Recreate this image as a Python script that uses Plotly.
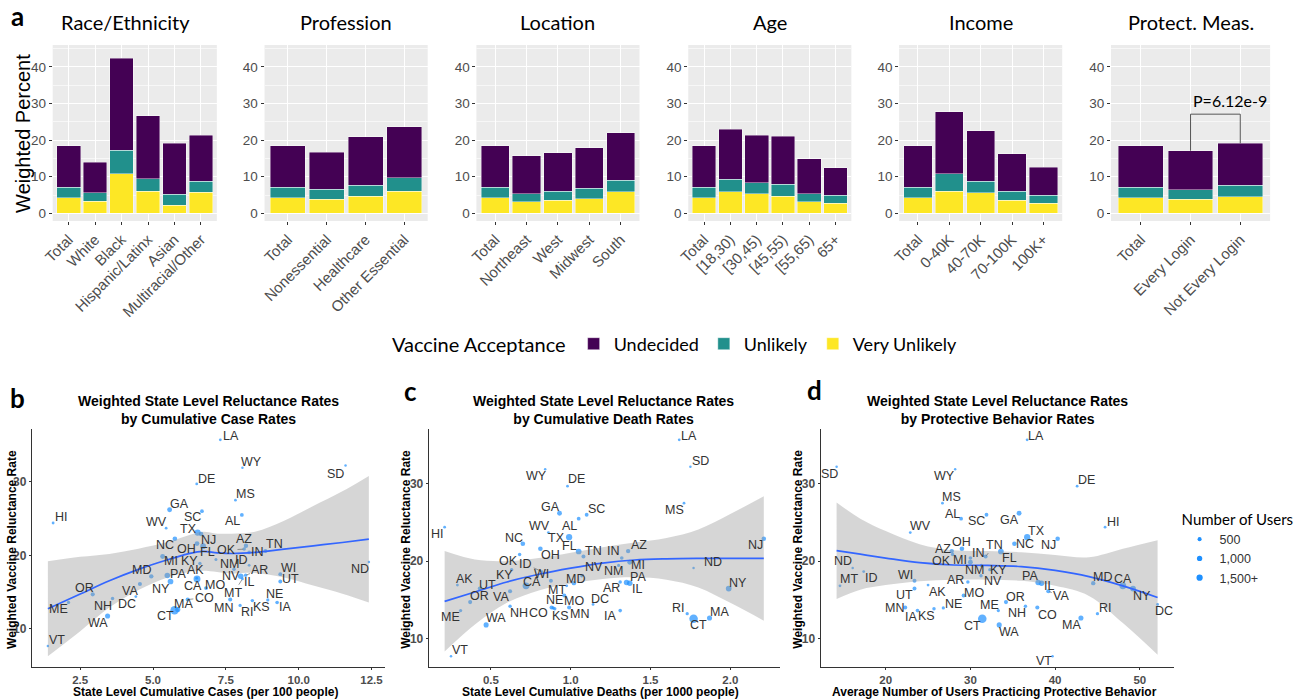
import plotly.graph_objects as go

# ---------------- Panel a: weighted percent by group, stacked by acceptance ----------------
race_cats = ["Total", "White", "Black", "Hispanic/Latinx", "Asian", "Multiracial/Other"]
race_very_unlikely = [4.3, 3.3, 10.75, 6.1, 2.2, 5.7]
race_unlikely = [2.8, 2.3, 6.55, 3.3, 3.0, 3.0]
race_undecided = [11.3, 8.3, 25.1, 17.3, 13.9, 12.6]

prof_cats = ["Total", "Nonessential", "Healthcare", "Other Essential"]
prof_very_unlikely = [4.3, 3.8, 4.6, 6.1]
prof_unlikely = [2.8, 2.8, 3.1, 3.6]
prof_undecided = [11.3, 10.1, 13.2, 14.0]

loc_cats = ["Total", "Northeast", "West", "Midwest", "South"]
loc_very_unlikely = [4.3, 3.1, 3.6, 4.0, 5.9]
loc_unlikely = [2.8, 2.3, 2.5, 2.9, 3.2]
loc_undecided = [11.3, 10.3, 10.5, 11.0, 12.9]

age_cats = ["Total", "[18,30)", "[30,45)", "[45,55)", "[55,65)", "65+"]
age_very_unlikely = [4.3, 5.9, 5.3, 4.7, 3.1, 2.7]
age_unlikely = [2.8, 3.4, 3.1, 3.2, 2.2, 2.2]
age_undecided = [11.3, 13.7, 13.0, 13.2, 9.6, 7.6]

inc_cats = ["Total", "0-40K", "40-70K", "70-100K", "100K+"]
inc_very_unlikely = [4.3, 6.0, 5.6, 3.6, 2.7]
inc_unlikely = [2.8, 4.75, 3.2, 2.5, 2.2]
inc_undecided = [11.3, 17.05, 13.7, 10.2, 7.7]

prot_cats = ["Total", "Every Login", "Not Every Login"]
prot_very_unlikely = [4.3, 3.9, 4.5]
prot_unlikely = [2.8, 2.5, 3.15]
prot_undecided = [11.3, 10.7, 11.45]
prot_pvalue = "P=6.12e-9"

# ---------------- Panels b-d: state level data ----------------
states = ["AL", "AK", "AZ", "AR", "CA", "CO", "CT", "DE", "DC", "FL", "GA", "HI", "ID",
          "IL", "IN", "IA", "KS", "KY", "LA", "ME", "MD", "MA", "MI", "MN", "MS", "MO",
          "MT", "NE", "NV", "NH", "NJ", "NM", "NY", "NC", "ND", "OH", "OK", "OR", "PA",
          "RI", "SC", "SD", "TN", "TX", "UT", "VT", "VA", "WA", "WV", "WI", "WY"]
reluctance = [25.5, 16.9, 21.3, 17.3, 16.8, 14.0, 12.55, 29.7, 14.4, 21.25, 26.2, 24.4, 18.65,
              17.15, 20.4, 13.6, 13.85, 18.9, 35.7, 13.6, 17.15, 12.65, 19.85, 14.0, 27.5, 15.55,
              16.8, 13.95, 18.1, 14.15, 22.9, 19.45, 16.45, 22.25, 19.1, 21.6, 20.85, 14.7, 17.25,
              13.2, 26.0, 32.2, 20.6, 23.1, 16.45, 7.7, 16.1, 11.75, 23.7, 17.45, 31.9]
cases_per_100 = [8.05, 6.5, 8.19, 8.18, 6.51, 6.19, 5.74, 6.5, 4.41, 6.72, 5.57, 1.57, 8.3,
                 8.01, 8.3, 9.26, 8.41, 6.61, 7.31, 2.1, 4.94, 5.85, 5.33, 7.65, 7.83, 6.82,
                 8.07, 8.94, 7.78, 3.61, 6.65, 7.16, 5.6, 5.75, 12.41, 6.51, 8.13, 2.93, 5.49,
                 7.99, 6.68, 11.61, 8.86, 6.53, 9.37, 1.39, 4.55, 3.44, 5.45, 9.37, 8.07]
deaths_per_1000 = [1.05, 0.29, 1.36, 1.31, 0.72, 0.88, 1.77, 0.98, 1.14, 1.05, 0.93, 0.21, 0.82,
                   1.37, 1.32, 1.31, 0.90, 0.63, 1.68, 0.31, 1.02, 1.87, 1.37, 0.99, 1.71, 0.96,
                   0.975, 0.89, 1.07, 0.62, 2.21, 1.30, 1.99, 0.70, 1.77, 0.81, 0.68, 0.37, 1.35,
                   1.73, 1.10, 1.75, 1.08, 0.99, 0.43, 0.25, 0.62, 0.47, 0.86, 0.876, 0.84]
protective_users = [28.9, 25.0, 27.8, 29.7, 48.0, 37.9, 31.4, 42.6, 52.1, 33.6, 35.75, 45.9, 17.4,
                    38.4, 30.0, 23.75, 25.7, 32.3, 36.7, 33.3, 44.5, 43.05, 30.0, 22.3, 26.7, 29.2,
                    14.6, 26.8, 31.25, 36.5, 40.3, 31.3, 49.2, 35.2, 16.1, 29.0, 27.9, 34.2, 38.0,
                    45.0, 31.9, 14.2, 31.8, 36.7, 23.4, 39.7, 39.2, 33.4, 22.9, 23.4, 28.2]
n_users = [400, 150, 600, 300, 1900, 500, 3200, 150, 150, 1200, 800, 150, 150,
           1100, 350, 350, 300, 300, 150, 250, 600, 900, 800, 500, 150, 450,
           150, 250, 300, 300, 650, 200, 1200, 700, 100, 700, 300, 500, 1100,
           250, 400, 100, 450, 1500, 450, 100, 500, 900, 150, 450, 100]
size_legend_values = [500, 1000, 1500]
size_legend_labels = ["500", "1,000", "1,500+"]

# Smoothed trend (fit with confidence band) for each scatter panel
cases_smooth_x = [1.39, 2.5, 3.5, 4.5, 5.5, 6.2, 6.7, 7.2, 7.7, 8.5, 9.5, 10.5, 11.5, 12.41]
cases_smooth_fit = [12.75, 14.75, 16.55, 18.1, 19.4, 20.2, 20.55, 20.35, 20.25, 20.4, 20.85, 21.3, 21.75, 22.2]
cases_smooth_lo = [6.3, 9.7, 12.9, 15.3, 17.0, 17.7, 17.9, 17.75, 17.55, 17.6, 17.0, 15.9, 14.8, 13.6]
cases_smooth_hi = [19.2, 19.8, 20.2, 20.9, 21.8, 22.7, 23.2, 22.95, 22.95, 23.2, 24.7, 26.7, 28.7, 30.8]

deaths_smooth_x = [0.21, 0.4, 0.6, 0.8, 1.0, 1.2, 1.4, 1.6, 1.8, 2.0, 2.21]
deaths_smooth_fit = [14.8, 16.0, 17.3, 18.3, 19.1, 19.75, 20.15, 20.3, 20.35, 20.35, 20.35]
deaths_smooth_lo = [8.3, 11.8, 14.6, 16.2, 17.1, 17.7, 17.9, 17.6, 16.6, 14.6, 12.3]
deaths_smooth_hi = [21.3, 20.2, 20.0, 20.4, 21.1, 21.8, 22.4, 23.0, 24.1, 26.1, 28.4]

prot_smooth_x = [14.2, 17, 20, 24, 28, 32, 36, 40, 44, 48, 52.1]
prot_smooth_fit = [21.35, 20.9, 20.4, 19.8, 19.5, 19.45, 19.3, 18.8, 18.0, 16.8, 15.3]
prot_smooth_lo = [15.1, 16.3, 16.9, 17.4, 17.6, 17.6, 17.45, 16.8, 15.5, 12.0, 7.9]
prot_smooth_hi = [27.6, 25.5, 23.9, 22.2, 21.4, 21.3, 21.15, 20.8, 20.5, 21.6, 22.7]

# ---------------- styling ----------------
W, H = 1296, 699
COL_UNDECIDED = "#440154"
COL_UNLIKELY = "#21908C"
COL_VERY = "#FDE725"
PANEL_BG = "#EBEBEB"
POINT_COL = "#1E90FF"
FIT_COL = "#3366FF"
ARIAL = "Liberation Sans"
CAL = "Lato"


def xdom(a, b):
    return [a / W, b / W]


def ydom(top, bottom):
    return [1 - bottom / H, 1 - top / H]


def padded(vals, frac=0.05):
    lo, hi = min(vals), max(vals)
    d = (hi - lo) * frac
    return [lo - d, hi + d]


def dot_size(u):
    return 1.2 + 0.13 * u ** 0.5


def ax_ids(k):
    s = "" if k == 1 else str(k)
    return "x" + s, "y" + s, "xaxis" + s, "yaxis" + s


# Repelled label offsets (pixels right, pixels up) from each point
label_off_cases = {
    "LA": (10.7, 4), "WY": (9, 5.7), "SD": (-9.7, -8), "DE": (10, 5.3), "MS": (10.3, 5.7),
    "GA": (10, 5.7), "SC": (-9.3, -6), "AL": (-9.3, -6), "HI": (8.3, 5.7), "WV": (-9.3, 6.3),
    "TX": (-9.3, 3.3), "NJ": (7.3, -6), "NC": (-10.3, -6.3), "OH": (-10.3, -5.3), "FL": (4.3, -6.3),
    "AZ": (-1.7, 7), "OK": (-17.7, -1), "IN": (8, 0), "TN": (9.3, 6.7), "MI": (8.7, -5),
    "KY": (-10, 2.7), "NM": (14, -5), "ID": (-7.3, 5), "MD": (-9.3, 6), "NV": (-2.7, -6.7),
    "WI": (8.3, 6), "AR": (14.3, 5.3), "IL": (8.3, -6), "PA": (10.7, 1.7), "AK": (-1.7, 8.3),
    "CA": (-4, -7.3), "UT": (10, 2.3), "NY": (-10, -7.3), "MO": (9, 3.3), "MT": (-9, -14.3),
    "VA": (-10, -6.7), "OR": (-8.3, 6.7), "DC": (-9.3, -7), "NH": (-9.3, -7.7), "CO": (16.7, 1.7),
    "MN": (-7, -8.3), "NE": (6.7, 6), "KS": (9.3, -6.7), "IA": (8.3, -5), "RI": (7, -6.3),
    "ME": (-10, -6.7), "MA": (5.3, 5.7), "CT": (-9.3, -5.7), "WA": (-9.3, -6.7), "VT": (9.3, 5.7),
    "ND": (-9, -7)}
label_off_deaths = {
    "LA": (10, 4.3), "SD": (10, 5.7), "WY": (-9, -7.3), "DE": (9, 6.7), "MS": (-9.3, -7.3),
    "GA": (-9.3, 6.3), "SC": (9.7, 5.7), "AL": (-9.3, -7.3), "HI": (-6.7, -6.7), "WV": (-9, 6.7),
    "TX": (-12.3, -1.3), "NC": (-9.3, 6), "NJ": (-8.3, -6.7), "OH": (10, -6.6), "FL": (-9, 5),
    "AZ": (11, 6), "OK": (-10.7, -6), "IN": (-8.3, 6.7), "TN": (10, 6), "MI": (8.3, -2.7),
    "KY": (-7.3, -5), "NM": (-4.8, -5.7), "ID": (-16.3, 7.2), "WI": (-9, 6.6), "MD": (2, 4),
    "NV": (12.2, 8.6), "AR": (-8.8, -6.1), "IL": (7.3, -5.9), "PA": (11.9, 5.8), "AK": (7.5, 6.3),
    "UT": (7.9, 3.8), "CA": (6.1, 3.4), "VA": (-9.4, -6.2), "MT": (-10, -3.9), "OR": (9.3, 6.5),
    "NH": (8.9, -6.7), "MO": (9.4, -5.7), "DC": (7, 5), "CO": (-12.7, -5.6), "NE": (1.2, 7.5),
    "KS": (5.6, -7.7), "MN": (10, -6.3), "IA": (-10.5, -5.7), "ME": (-10, -6), "WA": (9.4, 6.6),
    "RI": (-9, 5.7), "CT": (5, -6), "MA": (10, 5.7), "NY": (9, 5.7), "ND": (19, 6.3),
    "VT": (9, 6)}
label_off_prot = {
    "LA": (9.3, 4.3), "SD": (-6.7, -6.7), "WY": (-10.7, -7.3), "DE": (9, 6.3), "MS": (9.3, 6.3),
    "AL": (-9, 5), "SC": (-9.7, -6.7), "GA": (-10, -7), "HI": (8.3, 5.3), "WV": (10, 6.7),
    "TX": (9.3, 6.3), "NC": (10.7, 0), "NJ": (-9.3, -6.7), "OH": (0, 6.7), "AZ": (-9, 1.7),
    "TN": (9.3, 11.9), "IN": (8, 5.2), "FL": (8.3, -6.5), "OK": (-10.7, -6.7), "MI": (-10.3, 2.8),
    "ND": (-10, 6.7), "NM": (-7.1, -4.7), "KY": (9.1, 0), "ID": (8.3, -6), "MT": (9, 6.7),
    "WI": (-9, 6), "AR": (-12.8, 2), "NV": (12.3, -5), "PA": (-8.6, 6.2), "IL": (7, -2.7),
    "VA": (12.9, -5), "MD": (9.3, 6.3), "CA": (0, 6.7), "NY": (9.3, -7), "UT": (-10, -6.3),
    "AK": (9, -7.3), "MO": (10.8, 2.3), "OR": (9.4, 4.8), "MN": (-10.3, 0), "IA": (-6.3, -6.3),
    "KS": (-7.3, -7), "NE": (10.3, 4.2), "ME": (-9.2, 5.9), "NH": (-8.8, -6.7), "CO": (10, -7.2),
    "RI": (8.3, 5.7), "MA": (-9.3, -7.3), "CT": (-10, -7), "WA": (9.7, -6.7), "DC": (6.7, -6.7),
    "VT": (-9, -5.3)}
leader_cases = {"OK", "AR", "MT", "CO"}
leader_deaths = {"ID", "NV"}
leader_prot = {"TN", "IL", "VA"}

fig = go.Figure()
layout_axes = {}
annotations = []
shapes = []


def note(text, px, py, size, family=ARIAL, color="black", angle=0, bold=False):
    annotations.append(dict(text=f"<b>{text}</b>" if bold else text, x=px / W, y=1 - py / H,
                            xref="paper", yref="paper", xanchor="center", yanchor="middle",
                            showarrow=False, textangle=angle,
                            font=dict(family=family, size=size, color=color)))


# ---------------- bar panels ----------------
groups = [
    ("Race/Ethnicity", race_cats, race_very_unlikely, race_unlikely, race_undecided),
    ("Profession", prof_cats, prof_very_unlikely, prof_unlikely, prof_undecided),
    ("Location", loc_cats, loc_very_unlikely, loc_unlikely, loc_undecided),
    ("Age", age_cats, age_very_unlikely, age_unlikely, age_undecided),
    ("Income", inc_cats, inc_very_unlikely, inc_unlikely, inc_undecided),
    ("Protect. Meas.", prot_cats, prot_very_unlikely, prot_unlikely, prot_undecided),
]
bar_x_px = [(53, 218), (266, 430), (479, 643), (692, 856), (904, 1068), (1117, 1277)]
bar_title_px = [126, 348, 561, 774, 986, 1197]
bar_y_px = (45, 221)

for i, (title, cats, very, unl, und) in enumerate(groups, start=1):
    xa, ya, xkey, ykey = ax_ids(i)
    for name, vals, col in (("Very Unlikely", very, COL_VERY),
                            ("Unlikely", unl, COL_UNLIKELY),
                            ("Undecided", und, COL_UNDECIDED)):
        fig.add_trace(go.Bar(x=cats, y=vals, name=name, marker_color=col,
                             marker_line=dict(color="rgba(255,255,255,0.7)", width=0.6),
                             xaxis=xa, yaxis=ya, legend="legend",
                             showlegend=(i == 1), legendgroup=name))
    layout_axes[xkey] = dict(
        domain=xdom(*bar_x_px[i - 1]), anchor=ya, type="category",
        categoryorder="array", categoryarray=cats, range=[-0.6, len(cats) - 0.4],
        showgrid=True, gridcolor="white", gridwidth=1.2, tickangle=-45,
        ticks="outside", ticklen=3, tickcolor="#333333",
        tickfont=dict(family=ARIAL, size=15, color="#4D4D4D"),
        showline=False, zeroline=False, automargin=False)
    layout_axes[ykey] = dict(
        domain=ydom(*bar_y_px), anchor=xa, range=[-2.1, 46.0],
        tickvals=[0, 10, 20, 30, 40], showgrid=True, gridcolor="white", gridwidth=1.2,
        minor=dict(tick0=5, dtick=10, showgrid=True, gridcolor="#F7F7F7", gridwidth=0.6),
        ticks="outside", ticklen=3, tickcolor="#333333",
        tickfont=dict(family=ARIAL, size=13.5, color="#4D4D4D"),
        zeroline=False, showline=False, automargin=False)
    shapes.append(dict(type="rect", xref=f"{xa} domain", yref=f"{ya} domain",
                       x0=0, x1=1, y0=0, y1=1, fillcolor=PANEL_BG, line_width=0, layer="below"))
    note(title, bar_title_px[i - 1], 22, 20, family=CAL)

note("Weighted Percent", 23, 133, 20, angle=-90)

# significance bracket between the two login groups
tot_prot = [a + b + c for a, b, c in zip(prot_very_unlikely, prot_unlikely, prot_undecided)]
bracket_top = 27.1
shapes.append(dict(type="path", xref="x6", yref="y6",
                   path=(f"M 1,{tot_prot[1]:.2f} L 1,{bracket_top} "
                         f"L 2,{bracket_top} L 2,{tot_prot[2]:.2f}"),
                   line=dict(color="#555555", width=1)))
annotations.append(dict(text=prot_pvalue, x=1, y=bracket_top + 0.6, xref="x6", yref="y6",
                        xanchor="left", yanchor="bottom", showarrow=False,
                        font=dict(family=CAL, size=16, color="black")))

# ---------------- scatter panels ----------------
scatter_panels = [
    (7, cases_per_100, cases_smooth_x, cases_smooth_fit, cases_smooth_lo, cases_smooth_hi,
     label_off_cases, leader_cases, (32, 387), [2.5, 5.0, 7.5, 10.0, 12.5], ".1f",
     "State Level Cumulative Cases (per 100 people)",
     "Weighted State Level Reluctance Rates<br>by Cumulative Case Rates", 210, 12),
    (8, deaths_per_1000, deaths_smooth_x, deaths_smooth_fit, deaths_smooth_lo, deaths_smooth_hi,
     label_off_deaths, leader_deaths, (431, 784), [0.5, 1.0, 1.5, 2.0], ".1f",
     "State Level Cumulative Deaths (per 1000 people)",
     "Weighted State Level Reluctance Rates<br>by Cumulative Death Rates", 607, 408),
    (9, protective_users, prot_smooth_x, prot_smooth_fit, prot_smooth_lo, prot_smooth_hi,
     label_off_prot, leader_prot, (825, 1180), [20, 30, 40, 50], "d",
     "Average Number of Users Practicing Protective Behavior",
     "Weighted State Level Reluctance Rates<br>by Protective Behavior Rates", 1003, 802),
]

for (k, xs, sx, sfit, slo, shi, offs, leaders, xpx, xticks, xfmt, xtitle, ptitle,
     tx, ytx) in scatter_panels:
    xa, ya, xkey, ykey = ax_ids(k)
    fig.add_trace(go.Scatter(
        x=xs, y=reluctance, mode="markers", text=states,
        marker=dict(color=POINT_COL, size=[dot_size(u) for u in n_users], line_width=0),
        xaxis=xa, yaxis=ya, showlegend=False, cliponaxis=False))
    fig.add_trace(go.Scatter(x=sx, y=slo, mode="lines", line=dict(width=0, shape="spline"),
                             xaxis=xa, yaxis=ya, showlegend=False, hoverinfo="skip"))
    fig.add_trace(go.Scatter(x=sx, y=shi, mode="lines", line=dict(width=0, shape="spline"),
                             fill="tonexty", fillcolor="rgba(153,153,153,0.4)",
                             xaxis=xa, yaxis=ya, showlegend=False, hoverinfo="skip"))
    fig.add_trace(go.Scatter(x=sx, y=sfit, mode="lines",
                             line=dict(color=FIT_COL, width=1.7, shape="spline"),
                             xaxis=xa, yaxis=ya, showlegend=False))
    for s, xv, yv in zip(states, xs, reluctance):
        dx, up = offs[s]
        annotations.append(dict(
            text=s, x=xv, y=yv, xref=xa, yref=ya, showarrow=True, ax=dx, ay=-up,
            arrowhead=0, arrowwidth=0.6, standoff=1,
            arrowcolor="#555555" if s in leaders else "rgba(0,0,0,0)",
            font=dict(family=ARIAL, size=12.5, color="#333333")))
    layout_axes[xkey] = dict(
        domain=xdom(*xpx), anchor=ya, range=padded(xs), tickvals=xticks, tickformat=xfmt,
        showline=True, linecolor="#333333", linewidth=1, ticks="outside", ticklen=2,
        tickcolor="#333333", showgrid=False, zeroline=False, automargin=False,
        tickfont=dict(family=ARIAL, size=11.5, color="#4D4D4D", weight="bold"))
    layout_axes[ykey] = dict(
        domain=ydom(429, 667), anchor=xa, range=padded(reluctance + slo + shi),
        tickvals=[10, 20, 30], showline=True, linecolor="#333333", linewidth=1,
        ticks="outside", ticklen=2, tickcolor="#333333", showgrid=False, zeroline=False,
        automargin=False,
        tickfont=dict(family=ARIAL, size=12, color="#4D4D4D", weight="bold"))
    note(ptitle, tx, 410, 14, bold=True)
    note(xtitle, tx - 3, 692, 12, bold=True)
    note("Weighted Vaccine Reluctance Rate", ytx, 549, 12, angle=-90, bold=True)

# size legend entries for panel d
for v, lab in zip(size_legend_values, size_legend_labels):
    fig.add_trace(go.Scatter(x=[None], y=[None], mode="markers", name=lab,
                             marker=dict(color=POINT_COL, size=dot_size(v)),
                             xaxis="x9", yaxis="y9", legend="legend2", showlegend=True))

# panel letters
for letter, lx, ly in (("a", 18, 16), ("b", 18, 398), ("c", 413, 391), ("d", 819, 390)):
    note(letter, lx, ly, 26, family=CAL, bold=True)

fig.update_layout(
    width=W, height=H, margin=dict(l=0, r=0, t=0, b=0),
    paper_bgcolor="white", plot_bgcolor="rgba(0,0,0,0)",
    barmode="stack", bargap=0.1,
    shapes=shapes, annotations=annotations,
    legend=dict(orientation="h", x=392 / W, y=1 - 344 / H, xanchor="left", yanchor="middle",
                traceorder="reversed", title=dict(text="Vaccine Acceptance", side="left",
                                                  font=dict(family=CAL, size=20, color="black")),
                font=dict(family=CAL, size=18, color="black"), bgcolor="rgba(0,0,0,0)"),
    legend2=dict(x=1186 / W, y=1 - 505 / H, xanchor="left", yanchor="top",
                 title=dict(text="Number of Users", font=dict(family=CAL, size=15, color="black")),
                 font=dict(family=ARIAL, size=12.5, color="#333333"), itemsizing="trace",
                 bgcolor="rgba(0,0,0,0)", tracegroupgap=0),
    **layout_axes,
)

fig.write_html("out.html")
